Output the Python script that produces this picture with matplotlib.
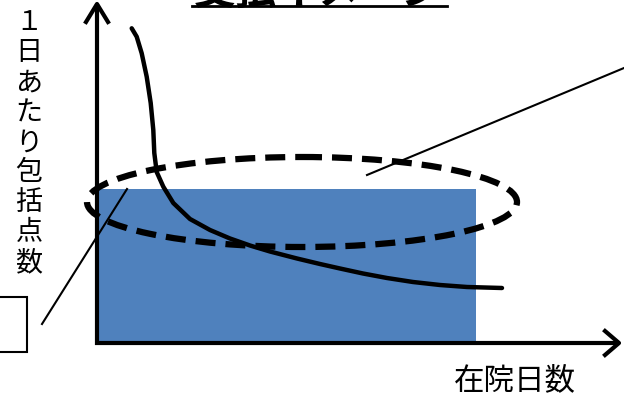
import matplotlib
matplotlib.use("Agg")
import matplotlib.pyplot as plt
from matplotlib.patches import Ellipse, Rectangle

plt.rcParams['font.family'] = ['Noto Sans CJK JP', 'DejaVu Sans']

# Data (canvas coordinates, y grows downward)
title_text = "支払イメージ"
ylabel_text = "１日あたり包括点数"
xlabel_text = "在院日数"

curve_x = [131.7, 136.7, 141.7, 146.7, 150.7, 153.3, 154.3, 156.7, 163.3, 173.3, 190,
           210, 230, 250, 270, 297, 320, 340, 363, 387, 413, 440, 467, 502]
curve_y = [28.3, 36.7, 53.3, 76.7, 103, 130, 153, 172, 186.7, 203, 219,
           230, 238.5, 245.5, 251.5, 258.5, 264, 268.5, 273.5, 278, 282, 285, 287, 288]

bar_left, bar_right = 97, 476
bar_top, bar_bottom = 189, 343

ell_cx, ell_cy, ell_w, ell_h = 302, 202, 430, 90

fig = plt.figure(figsize=(6.24, 3.96), dpi=100)
ax = fig.add_axes([0, 0, 1, 1])
ax.set_xlim(0, 624)
ax.set_ylim(396, 0)
ax.axis('off')

# blue rectangle
ax.bar(bar_left, bar_bottom - bar_top, width=bar_right - bar_left, bottom=bar_top,
       align='edge', color='#4F81BD', zorder=2)

# axes arrows
ax.plot([97, 97], [345, 4], color='black', lw=3, zorder=3, solid_capstyle='butt')
ax.plot([86, 97, 108], [22, 4, 22], color='black', lw=3, zorder=3)
ax.plot([95, 618], [343, 343], color='black', lw=3, zorder=3, solid_capstyle='butt')
ax.plot([605, 619, 605], [331, 343, 355], color='black', lw=3, zorder=3)

# curve
ax.plot(curve_x, curve_y, color='black', lw=3.2, zorder=4, solid_capstyle='round',
        solid_joinstyle='round')

# dashed ellipse
ax.add_patch(Ellipse((ell_cx, ell_cy), ell_w, ell_h, fill=False, edgecolor='black',
                     lw=4.5, linestyle=(0, (3.2, 1.6)), zorder=5))

# callout lines
ax.plot([42, 127], [324, 189], color='black', lw=1.5, zorder=6)
ax.plot([367, 624], [175, 68], color='black', lw=1.5, zorder=6)

# box at left (partially off canvas)
ax.add_patch(Rectangle((-20, 297), 47, 55, fill=False, edgecolor='black', lw=1.5, zorder=6))

# title (mostly cut off at the top edge, as in the reference) with underline
ax.text(319, 4, title_text, fontsize=30, fontweight='bold', ha='center', va='baseline', zorder=6)
ax.plot([192, 447], [6, 6], color='black', lw=2, zorder=6)

# vertical y label
for i, ch in enumerate(ylabel_text):
    ax.text(29, 23 + i * 30, ch, fontsize=19.5, ha='center', va='center', zorder=6)

# x label
ax.text(515, 381, xlabel_text, fontsize=22, ha='center', va='center', zorder=6)

fig.savefig('out.png', dpi=100)
